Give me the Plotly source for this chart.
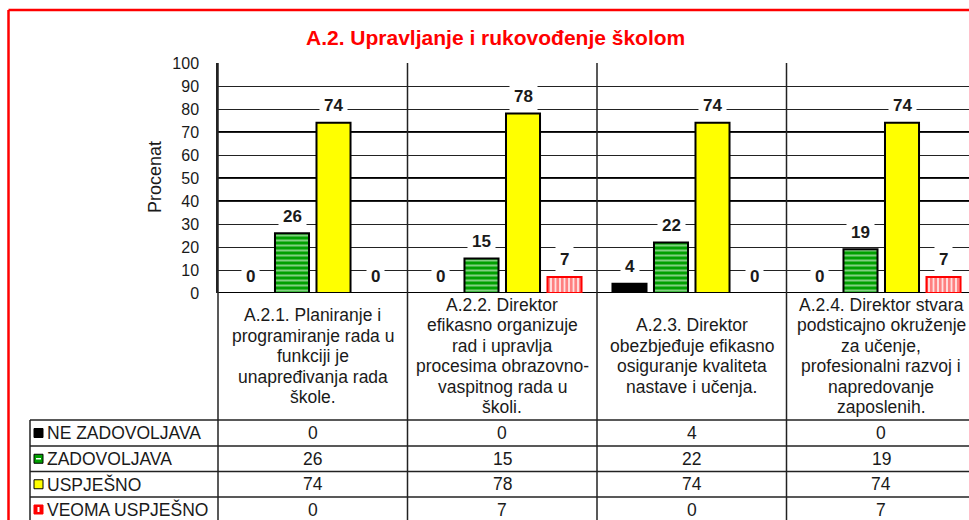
import plotly.graph_objects as go

# ---------------- data ----------------
categories = [
    "A.2.1. Planiranje i<br>programiranje rada u<br>funkciji je<br>unapređivanja rada<br>škole.",
    "A.2.2. Direktor<br>efikasno organizuje<br>rad i upravlja<br>procesima obrazovno-<br>vaspitnog rada u<br>školi.",
    "A.2.3. Direktor<br>obezbjeđuje efikasno<br>osiguranje kvaliteta<br>nastave i učenja.",
    "A.2.4. Direktor stvara<br>podsticajno okruženje<br>za učenje,<br>profesionalni razvoj i<br>napredovanje<br>zaposlenih.",
]
series_names = ["NE ZADOVOLJAVA", "ZADOVOLJAVA", "USPJEŠNO", "VEOMA USPJEŠNO"]
ne_zadovoljava = [0, 0, 4, 0]
zadovoljava = [26, 15, 22, 19]
uspjesno = [74, 78, 74, 74]
veoma_uspjesno = [0, 7, 0, 7]
y_ticks = [0, 10, 20, 30, 40, 50, 60, 70, 80, 90, 100]
title_text = "A.2. Upravljanje i rukovođenje školom"
y_title = "Procenat"

series_values = [ne_zadovoljava, zadovoljava, uspjesno, veoma_uspjesno]

# ---------------- layout geometry (page pixels) ----------------
W, H = 969, 520
PL, PR = 218, 976           # plot left / right px (right edge lies just outside the view)
PT, PB = 63, 293            # plot top / bottom px
CAT_W = 189.5
BARGAP = 0.124
GROUPGAP = 0.18
xs = list(range(len(categories)))
x_min = -0.5
x_max = x_min + (PR - PL) / CAT_W

FONT = "Liberation Sans, Arial, sans-serif"
TXT = "#1a1a1a"


def px_x(px):
    return (px - PL) / (PR - PL)


def px_y(py):
    return (PB - py) / (PB - PT)


def data_x_to_paper(x):
    return (x - x_min) / (x_max - x_min)


styles = [
    dict(color="black", line_color="black"),
    dict(color="#00a000", line_color="black",
         pattern=dict(shape="-", fgcolor="white", bgcolor="#00a000", size=5, solidity=0.4)),
    dict(color="#ffff00", line_color="black"),
    dict(color="white", line_color="#ff0000",
         pattern=dict(shape="|", fgcolor="#ff0000", bgcolor="white", size=4.5, solidity=0.7)),
]

fig = go.Figure()
for name, vals, st in zip(series_names, series_values, styles):
    marker = dict(color=st["color"],
                  line=dict(color=st["line_color"], width=[2 if v > 0 else 0 for v in vals]))
    if "pattern" in st:
        marker["pattern"] = st["pattern"]
    fig.add_trace(go.Bar(x=xs, y=vals, name=name, marker=marker, showlegend=False,
                         hoverinfo="skip", cliponaxis=False))

shapes = []
annotations = []

# thick gridlines (as in the source rendering)
for yv in [0, 40, 50, 70]:
    shapes.append(dict(type="line", xref="paper", yref="y", x0=0, x1=1, y0=yv, y1=yv,
                       line=dict(color="black", width=2), layer="below"))

# category separators through the plot and the table
bottom = px_y(H + 5)
for i in range(len(categories) + 1):
    xp = data_x_to_paper(i - 0.5)
    if xp > 1.001:
        continue
    shapes.append(dict(type="line", xref="paper", yref="paper", x0=xp, x1=xp,
                       y0=bottom, y1=1, line=dict(color="#222", width=1.5), layer="below"))

# table rows
row_lines_px = [420, 446, 471.5, 497]
row_centers_px = [433, 458.75, 484.25, 509.5]
table_left = px_x(30)
for r in row_lines_px:
    shapes.append(dict(type="line", xref="paper", yref="paper", x0=table_left, x1=1.0,
                       y0=px_y(r), y1=px_y(r), line=dict(color="#222", width=1.5)))
shapes.append(dict(type="line", xref="paper", yref="paper", x0=table_left, x1=table_left,
                   y0=px_y(420), y1=bottom, line=dict(color="#222", width=1.5)))

# red outer frame
shapes.append(dict(type="line", xref="paper", yref="paper", x0=px_x(8.5), x1=px_x(W + 5),
                   y0=px_y(10), y1=px_y(10), line=dict(color="#ff0000", width=2.5)))
shapes.append(dict(type="line", xref="paper", yref="paper", x0=px_x(8.5), x1=px_x(8.5),
                   y0=px_y(10), y1=bottom, line=dict(color="#ff0000", width=2.5)))

# legend icons + values in table rows
icon_fill = ["black", "#00a000", "#ffff00", "#ff0000"]
icon_line = ["black", "black", "black", "#ff0000"]
TFS = 17.5
for k in range(4):
    cy = row_centers_px[k]
    shapes.append(dict(type="rect", xref="paper", yref="paper",
                       x0=px_x(34), x1=px_x(43), y0=px_y(cy + 4.5), y1=px_y(cy - 4.5),
                       fillcolor=icon_fill[k], line=dict(color=icon_line[k], width=1)))
    if k == 1:
        shapes.append(dict(type="line", xref="paper", yref="paper",
                           x0=px_x(36), x1=px_x(41), y0=px_y(cy), y1=px_y(cy),
                           line=dict(color="white", width=1.5)))
    if k == 3:
        shapes.append(dict(type="line", xref="paper", yref="paper",
                           x0=px_x(38.5), x1=px_x(38.5), y0=px_y(cy + 2.5), y1=px_y(cy - 2.5),
                           line=dict(color="white", width=2)))
    annotations.append(dict(x=px_x(45), y=px_y(cy), xref="paper", yref="paper",
                            text=series_names[k], showarrow=False, xanchor="left",
                            yanchor="middle", font=dict(family=FONT, size=TFS, color=TXT)))
    for i, v in enumerate(series_values[k]):
        annotations.append(dict(x=i, y=px_y(cy), xref="x", yref="paper", text=str(v),
                                showarrow=False, xanchor="center", yanchor="middle",
                                font=dict(family=FONT, size=TFS, color=TXT)))

# category header texts (one annotation per line for exact line spacing)
LINE_H = 20.5
HEAD_CY = 356
for i, c in enumerate(categories):
    lines = c.split("<br>")
    n = len(lines)
    for li, ln in enumerate(lines):
        cy = HEAD_CY + (li - (n - 1) / 2) * LINE_H
        annotations.append(dict(x=i, y=px_y(cy), xref="x", yref="paper", text=ln,
                                showarrow=False, xanchor="center", yanchor="middle",
                                font=dict(family=FONT, size=TFS, color=TXT)))

# bar value labels
slot = (1 - BARGAP) / len(series_names)
for j, vals in enumerate(series_values):
    for i, v in enumerate(vals):
        annotations.append(dict(x=i + (j - 1.5) * slot, y=v, xref="x", yref="y",
                                text="<b>%d</b>" % v, showarrow=False, yshift=17,
                                xanchor="center", yanchor="middle", bgcolor="white",
                                borderpad=4, font=dict(family=FONT, size=17, color=TXT)))

# title and y axis title
annotations.append(dict(x=px_x(495), y=px_y(37), xref="paper", yref="paper",
                        text="<b>%s</b>" % title_text, showarrow=False, xanchor="center",
                        yanchor="middle", font=dict(family=FONT, size=21, color="#ff0000")))
annotations.append(dict(x=px_x(155), y=px_y(177), xref="paper", yref="paper",
                        text=y_title, showarrow=False, textangle=-90, xanchor="center",
                        yanchor="middle", font=dict(family=FONT, size=18, color=TXT)))

fig.update_layout(
    width=PR, height=H,
    margin=dict(l=PL, r=0, t=PT, b=H - PB, pad=0),
    paper_bgcolor="white", plot_bgcolor="white",
    barmode="group", bargap=BARGAP, bargroupgap=GROUPGAP,
    showlegend=False,
    xaxis=dict(range=[x_min, x_max], showticklabels=False, showgrid=False,
               zeroline=False, showline=False, fixedrange=True),
    yaxis=dict(range=[0, 100], tickvals=y_ticks, showgrid=True, gridcolor="#222",
               gridwidth=1, zeroline=False, showline=True, linecolor="#222",
               linewidth=1.5, mirror=False, ticks="", ticklabelstandoff=14,
               tickfont=dict(family=FONT, size=16, color=TXT), fixedrange=True),
    shapes=shapes, annotations=annotations,
)

fig.write_html(
    "out.html",
    config={"displayModeBar": False},
    post_script="document.body.style.margin='0';document.body.style.overflow='hidden';",
)
